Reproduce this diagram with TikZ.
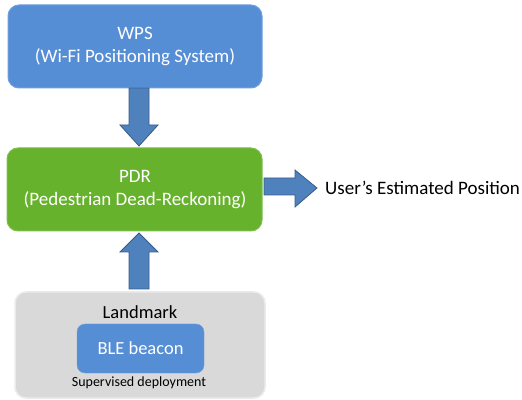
\documentclass[tikz,border=0pt]{standalone}
\usepackage{fontspec}
\setmainfont{Carlito}
\definecolor{boxblue}{RGB}{86,142,213}
\definecolor{boxgreen}{RGB}{103,178,44}
\definecolor{arrowfill}{RGB}{79,129,189}
\definecolor{arrowedge}{RGB}{56,93,138}
\definecolor{landfill}{RGB}{217,217,217}
\definecolor{landedge}{RGB}{235,235,235}
\tikzset{
  x=1pt, y=1pt,
  block/.style={rounded corners=11pt, line width=1pt},
  fatarrow/.style={fill=arrowfill, draw=arrowedge, line width=0.8pt, line join=miter},
  lbl/.style={font=\fontsize{19}{23}\selectfont, align=center, inner sep=0pt}
}
\begin{document}
\begin{tikzpicture}
\useasboundingbox (0,0) rectangle (522,399);
% WPS block
\filldraw[block, fill=boxblue, draw=boxblue!85!white] (8,311) rectangle (262,394);
\node[lbl, text=white] (wps) at (135,352.5) {WPS\\(Wi-Fi Positioning System)};
% PDR block
\filldraw[block, fill=boxgreen, draw=boxgreen!85!white] (7,168) rectangle (262,251);
\node[lbl, text=white] (pdr) at (135,209.5) {PDR\\(Pedestrian Dead-Reckoning)};
% Landmark block
\filldraw[block, fill=landfill, draw=landedge, line width=1.5pt] (15,1) rectangle (265,107);
\node[lbl, font=\fontsize{18.5}{22}\selectfont, text=black] (land) at (140,87) {Landmark};
\filldraw[rounded corners=8pt, fill=boxblue, draw=boxblue!85!white] (77,26) rectangle (204,75);
\node[lbl, font=\fontsize{18.5}{22}\selectfont, text=white] (ble) at (140.5,50.5) {BLE beacon};
\node[inner sep=0pt, font=\fontsize{14}{16}\selectfont] (sup) at (139,16) {Supervised deployment};
% block arrows
\path[fatarrow] (129,311) -- (149,311) -- (149,274) -- (158,274) -- (139,253) -- (120,274) -- (129,274) -- cycle;
\path[fatarrow] (129,110) -- (149,110) -- (149,147) -- (158,147) -- (139,166) -- (120,147) -- (129,147) -- cycle;
\path[fatarrow] (264,221) -- (295,221) -- (295,229) -- (317,211) -- (295,192) -- (295,204) -- (264,204) -- cycle;
\node[lbl, anchor=west] (out) at (325,211) {User’s Estimated Position};
\end{tikzpicture}
\end{document}
